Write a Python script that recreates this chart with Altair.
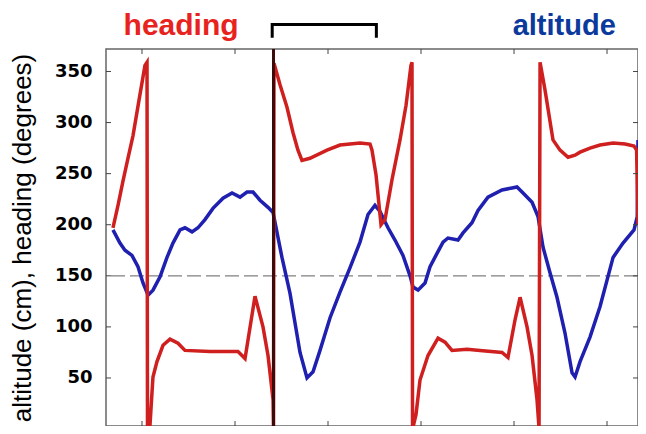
import altair as alt
import pandas as pd

# ---- data (time in s, value in degrees / cm) ----
heading_t = [0.688, 0.742, 0.796, 0.849, 0.903, 0.968, 1.032, 1.054,
             1.059,
             1.086, 1.118, 1.161, 1.226, 1.301, 1.387, 1.462, 1.731, 2.032, 2.108, 2.215, 2.301, 2.355, 2.409, 2.414,
             2.419,
             2.484, 2.559, 2.624, 2.677, 2.720, 2.806, 2.989, 3.129, 3.344, 3.452, 3.473, 3.516, 3.570, 3.613, 3.688, 3.774, 3.839, 3.892, 3.903,
             3.909,
             3.946, 3.989, 4.075, 4.183, 4.258, 4.333, 4.495, 4.634, 4.871, 4.935, 5.011, 5.065, 5.140, 5.194, 5.247, 5.269,
             5.280,
             5.333, 5.419, 5.495, 5.581, 5.656, 5.710, 5.817, 5.925, 6.065, 6.194, 6.290, 6.318, 6.333]
heading_v = [197, 219, 243, 265, 287, 322, 356, 359,
             1,
             4, 51, 66, 82, 88, 84, 77, 76, 76, 69, 130, 100, 72, 29, 1,
             358,
             337, 315, 290, 273, 263, 265, 273, 278, 280, 279, 273, 249, 200, 205, 244, 283, 317, 356, 359,
             0,
             14, 48, 72, 89, 85, 77, 78, 77, 75, 70, 107, 129, 100, 72, 29, 1,
             359,
             332, 283, 273, 266, 268, 271, 275, 278, 280, 279, 277, 273, 200]

altitude_t = [0.688, 0.763, 0.817, 0.892, 0.957, 1.011, 1.065, 1.118, 1.194, 1.269,
              1.333, 1.409, 1.462, 1.538, 1.602, 1.677, 1.763, 1.871, 1.968, 2.054,
              2.129, 2.194, 2.269, 2.355, 2.409, 2.505, 2.591, 2.699, 2.774, 2.839,
              2.914, 3.022, 3.129, 3.237, 3.344, 3.430, 3.505, 3.559, 3.645, 3.720,
              3.806, 3.882, 3.914, 3.968, 4.043, 4.097, 4.172, 4.237, 4.290, 4.398,
              4.452, 4.548, 4.613, 4.720, 4.871, 4.978, 5.032, 5.097, 5.194, 5.258,
              5.312, 5.387, 5.462, 5.548, 5.624, 5.656, 5.710, 5.817, 5.925, 6.065,
              6.172, 6.290, 6.325, 6.333]
altitude_v = [195, 182, 175, 170, 159, 143, 131, 136, 149, 168,
              182, 195, 197, 193, 197, 205, 216, 226, 231, 227,
              232, 232, 224, 217, 212, 168, 133, 75, 50, 56,
              77, 109, 134, 158, 183, 210, 219, 213, 197, 185,
              170, 150, 139, 136, 143, 159, 172, 183, 187, 185,
              192, 202, 214, 227, 234, 236, 237, 231, 222, 208,
              178, 153, 129, 94, 55, 51, 66, 90, 120, 168,
              182, 195, 208, 283]

y_ticks = [50, 100, 150, 200, 250, 300, 350]
x_ticks = [1, 2, 3, 4, 5, 6]
reference_level = [150]
marker_t = [2.414]

bracket_t = [2.40, 2.40, 3.52, 3.52]
bracket_v = [383, 396, 396, 383]

heading_label = ["heading"]
heading_label_t = [1.42]
altitude_label = ["altitude"]
altitude_label_t = [5.54]
label_v = [385.5]

# ---- tables ----
heading_df = pd.DataFrame({"t": heading_t, "v": heading_v, "i": range(len(heading_t))})
altitude_df = pd.DataFrame({"t": altitude_t, "v": altitude_v, "i": range(len(altitude_t))})
ytick_df = pd.DataFrame({"v": y_ticks})
xtick_df = pd.DataFrame({"t": x_ticks})
ref_df = pd.DataFrame({"v": reference_level})
marker_df = pd.DataFrame({"t": marker_t, "v": [0]})
bracket_df = pd.DataFrame({"t": bracket_t, "v": bracket_v, "i": range(len(bracket_t))})
hl_df = pd.DataFrame({"text": heading_label, "t": heading_label_t, "v": label_v})
al_df = pd.DataFrame({"text": altitude_label, "t": altitude_label_t, "v": label_v})

W, H = 532, 377
xs = alt.Scale(domain=[0.613, 6.333], nice=False, zero=False)
ys = alt.Scale(domain=[3, 372], nice=False, zero=False)

y_axis = alt.Axis(
    values=y_ticks, ticks=False, domain=False, grid=False,
    labelFont="DejaVu Sans", labelFontWeight="bold", labelFontSize=18,
    labelColor="black", labelPadding=14,
    title="altitude (cm), heading (degrees)", titleFont="Liberation Sans",
    titleFontSize=26, titleFontWeight="normal", titleColor="black",
    titlePadding=19,
)
Y = alt.Y("v:Q", scale=ys, axis=y_axis)
X = alt.X("t:Q", scale=xs, axis=None)

ref = alt.Chart(ref_df).mark_rule(color="#808080", strokeWidth=1.2, strokeDash=[14, 5]).encode(y=Y)

altitude = alt.Chart(altitude_df).mark_line(color="#1f1fb0", strokeWidth=3.5, clip=True).encode(
    x=X, y=Y, order="i:O")

heading = alt.Chart(heading_df).mark_line(color="#cf1f1f", strokeWidth=3.5, clip=True).encode(
    x=X, y=Y, order="i:O")

marker = alt.Chart(marker_df).mark_rule(color="#3a0c0c", strokeWidth=3).encode(
    x=X, y=alt.value(0), y2=alt.value(H))

tick_style = dict(color="#444444", strokeWidth=1)
yt_left = alt.Chart(ytick_df).mark_rule(**tick_style).encode(y=Y, x=alt.value(0), x2=alt.value(5))
yt_right = alt.Chart(ytick_df).mark_rule(**tick_style).encode(y=Y, x=alt.value(W - 5), x2=alt.value(W))
xt_top = alt.Chart(xtick_df).mark_rule(**tick_style).encode(x=X, y=alt.value(0), y2=alt.value(5))
xt_bottom = alt.Chart(xtick_df).mark_rule(**tick_style).encode(x=X, y=alt.value(H - 5), y2=alt.value(H))

bracket = alt.Chart(bracket_df).mark_line(color="black", strokeWidth=3, strokeJoin="miter").encode(
    x=X, y=Y, order="i:O")

hl = alt.Chart(hl_df).mark_text(
    font="Liberation Sans", fontSize=30, fontWeight="bold", baseline="alphabetic",
    align="center", color="#e8231e"
).encode(x=X, y=Y, text="text:N")

al = alt.Chart(al_df).mark_text(
    font="Liberation Sans", fontSize=29, fontWeight="bold", baseline="alphabetic",
    align="center", color="#0b3a9c"
).encode(x=X, y=Y, text="text:N")

chart = alt.layer(
    ref, altitude, heading, marker, yt_left, yt_right, xt_top, xt_bottom, bracket, hl, al
).properties(
    width=W, height=H,
    autosize=alt.AutoSizeParams(type="none"),
    padding={"left": 98, "top": 41, "right": 0, "bottom": 0},
    background="white",
).configure_view(
    stroke="#666666", strokeWidth=1.5
)

chart.save("out.html", embed_options={"renderer": "svg", "actions": False})
